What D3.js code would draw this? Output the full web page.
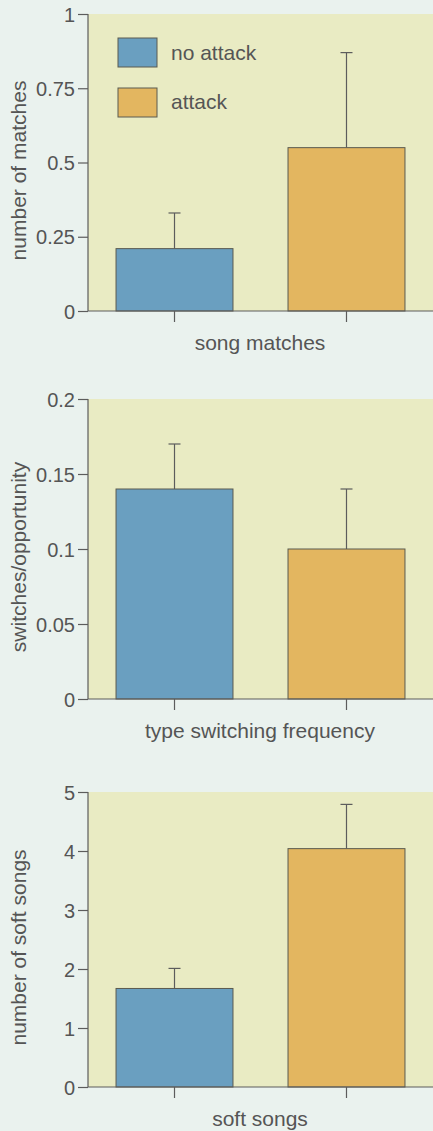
<!DOCTYPE html>
<html>
<head>
<meta charset="utf-8">
<script src="https://cdn.jsdelivr.net/npm/d3@7"></script>
<style>
  body { margin: 0; background: #eaf2ee; }
  svg { display: block; }
  text { font-family: "Liberation Sans", Arial, sans-serif; fill: #555; }
</style>
</head>
<body>
<div id="chart"></div>
<script>
const groups = ["no attack", "attack"];
const colors = ["#6a9fc0", "#e3b660"];

const matchValues = [0.21, 0.55];
const matchErrors = [0.33, 0.87];
const matchTicks = [0, 0.25, 0.5, 0.75, 1];

const switchValues = [0.14, 0.1];
const switchErrors = [0.17, 0.14];
const switchTicks = [0, 0.05, 0.1, 0.15, 0.2];

const softValues = [1.67, 4.04];
const softErrors = [2.01, 4.79];
const softTicks = [0, 1, 2, 3, 4, 5];

const panels = [
  { top: 14, bottom: 311, max: 1, ticks: matchTicks,
    values: matchValues, errors: matchErrors, ylabel: "number of matches", xlabel: "song matches", legend: true },
  { top: 399, bottom: 699, max: 0.2, ticks: switchTicks,
    values: switchValues, errors: switchErrors, ylabel: "switches/opportunity", xlabel: "type switching frequency" },
  { top: 792, bottom: 1087, max: 5, ticks: softTicks,
    values: softValues, errors: softErrors, ylabel: "number of soft songs", xlabel: "soft songs" }
];

const width = 433, height = 1131;
const axisX = 88;
const axisColor = "#5c5c5c";

const svg = d3.select("#chart")
  .append("svg")
  .attr("width", width)
  .attr("height", height);

panels.forEach(p => {
  const g = svg.append("g");

  const y = d3.scaleLinear()
    .domain([0, p.max])
    .range([p.bottom, p.top]);

  const x = d3.scaleBand()
    .domain(groups)
    .range([axisX, width])
    .paddingInner(0.32)
    .paddingOuter(0.163);

  // plot background
  g.append("rect")
    .attr("x", axisX)
    .attr("y", p.top)
    .attr("width", width - axisX)
    .attr("height", p.bottom - p.top)
    .attr("fill", "#e9ebc3");

  // error bars
  groups.forEach((grp, i) => {
    const cx = x(grp) + x.bandwidth() / 2;
    g.append("line")
      .attr("x1", cx).attr("x2", cx)
      .attr("y1", y(p.values[i])).attr("y2", y(p.errors[i]))
      .attr("stroke", axisColor).attr("stroke-width", 1.2);
    g.append("line")
      .attr("x1", cx - 6).attr("x2", cx + 6)
      .attr("y1", y(p.errors[i])).attr("y2", y(p.errors[i]))
      .attr("stroke", axisColor).attr("stroke-width", 1.2);
  });

  g.selectAll("rect.bar")
    .data(p.values)
    .join("rect")
    .attr("class", "bar")
    .attr("x", (d, i) => x(groups[i]))
    .attr("y", d => y(d))
    .attr("width", x.bandwidth())
    .attr("height", d => p.bottom - y(d))
    .attr("fill", (d, i) => colors[i])
    .attr("stroke", "#5a5a50")
    .attr("stroke-width", 1);

  // y axis
  const yAxis = g.append("g")
    .attr("transform", `translate(${axisX},0)`)
    .call(d3.axisLeft(y).tickValues(p.ticks).tickFormat(d => String(d)).tickSize(10).tickSizeOuter(0));
  yAxis.select(".domain").remove();
  yAxis.selectAll("line").attr("stroke", axisColor).attr("stroke-width", 1.2);
  yAxis.selectAll("text")
    .attr("x", -13)
    .attr("dy", "0.35em")
    .style("font-size", "20px")
    .attr("fill", "#555");
  g.append("line")
    .attr("x1", axisX).attr("x2", axisX)
    .attr("y1", p.top).attr("y2", p.bottom)
    .attr("stroke", axisColor).attr("stroke-width", 1.2);

  // x axis
  const xAxis = g.append("g")
    .attr("transform", `translate(0,${p.bottom})`)
    .call(d3.axisBottom(x).tickSize(11).tickFormat(""));
  xAxis.select(".domain").remove();
  xAxis.selectAll("line").attr("stroke", axisColor).attr("stroke-width", 1.2);
  g.append("line")
    .attr("x1", axisX).attr("x2", width)
    .attr("y1", p.bottom).attr("y2", p.bottom)
    .attr("stroke", axisColor).attr("stroke-width", 1.2);

  g.append("text")
    .attr("x", 260)
    .attr("y", p.bottom + 39)
    .attr("text-anchor", "middle")
    .style("font-size", "21px")
    .text(p.xlabel);

  g.append("text")
    .attr("transform", `translate(26,${(p.top + p.bottom) / 2 + 8}) rotate(-90)`)
    .attr("text-anchor", "middle")
    .style("font-size", "21px")
    .text(p.ylabel);

  if (p.legend) {
    const leg = g.append("g");
    groups.forEach((grp, i) => {
      leg.append("rect")
        .attr("x", 118).attr("y", 38 + i * 50)
        .attr("width", 39).attr("height", 29)
        .attr("fill", colors[i])
        .attr("stroke", "#5a5a50").attr("stroke-width", 1);
      leg.append("text")
        .attr("x", 171).attr("y", 53 + i * 49)
        .attr("dy", "0.35em")
        .style("font-size", "21px")
        .text(grp);
    });
  }
});
</script>
</body>
</html>
